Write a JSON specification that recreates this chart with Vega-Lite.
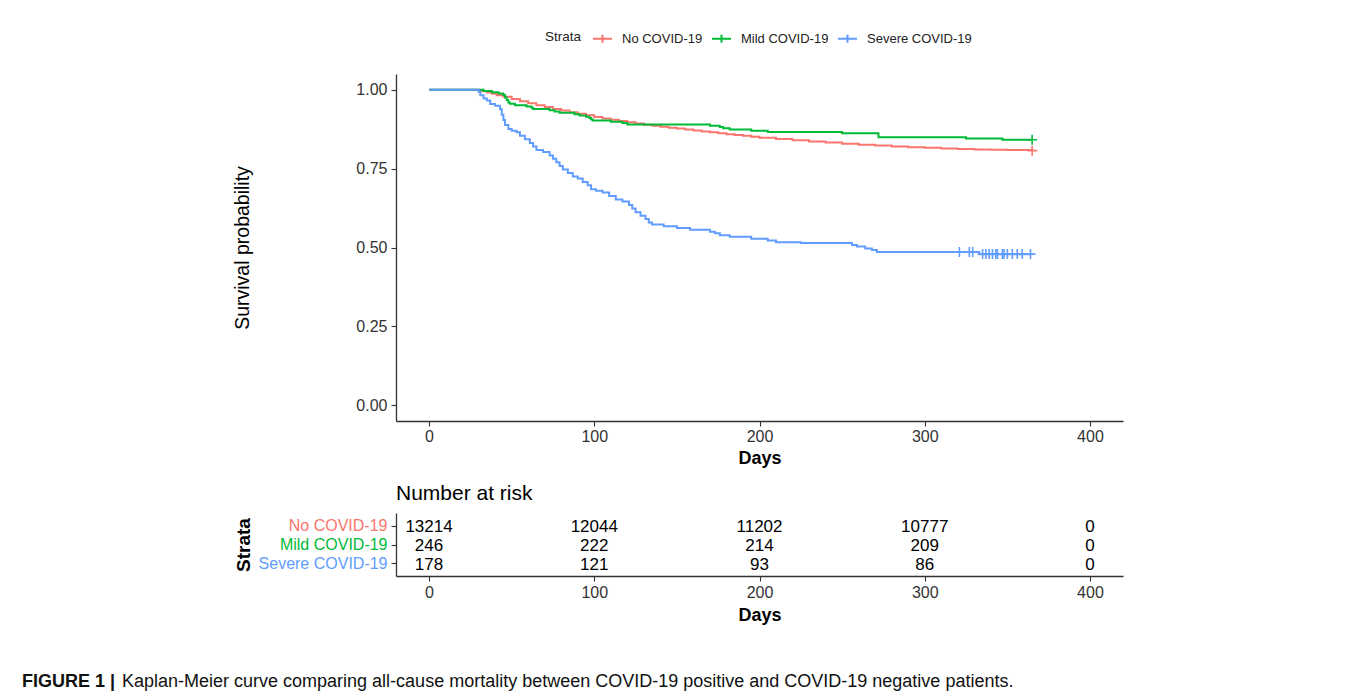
{
  "$schema": "https://vega.github.io/schema/vega-lite/v6.json",
  "background": "white",
  "padding": {"left": 22, "top": 28, "right": 10, "bottom": 0},
  "config": {
    "font": "Liberation Sans",
    "view": {"stroke": null},
    "axis": {
      "grid": false,
      "domainColor": "#333333",
      "domainWidth": 1.3,
      "tickColor": "#333333",
      "tickWidth": 1.1,
      "tickSize": 5,
      "labelColor": "#333333",
      "labelFontSize": 16,
      "labelFont": "Liberation Sans",
      "titleFont": "Liberation Sans",
      "titleColor": "#000000"
    }
  },
  "datasets": {
    "curves": [
      {"strata": "No COVID-19", "day": 0, "surv": 1.0},
      {"strata": "No COVID-19", "day": 30, "surv": 0.998},
      {"strata": "No COVID-19", "day": 32, "surv": 0.995},
      {"strata": "No COVID-19", "day": 35, "surv": 0.991},
      {"strata": "No COVID-19", "day": 38, "surv": 0.987},
      {"strata": "No COVID-19", "day": 41, "surv": 0.983},
      {"strata": "No COVID-19", "day": 45, "surv": 0.978},
      {"strata": "No COVID-19", "day": 50, "surv": 0.971},
      {"strata": "No COVID-19", "day": 55, "surv": 0.964},
      {"strata": "No COVID-19", "day": 60, "surv": 0.957},
      {"strata": "No COVID-19", "day": 65, "surv": 0.951},
      {"strata": "No COVID-19", "day": 70, "surv": 0.945},
      {"strata": "No COVID-19", "day": 75, "surv": 0.939},
      {"strata": "No COVID-19", "day": 80, "surv": 0.934},
      {"strata": "No COVID-19", "day": 85, "surv": 0.929},
      {"strata": "No COVID-19", "day": 90, "surv": 0.924},
      {"strata": "No COVID-19", "day": 95, "surv": 0.919},
      {"strata": "No COVID-19", "day": 100, "surv": 0.914},
      {"strata": "No COVID-19", "day": 105, "surv": 0.909},
      {"strata": "No COVID-19", "day": 110, "surv": 0.905},
      {"strata": "No COVID-19", "day": 115, "surv": 0.901},
      {"strata": "No COVID-19", "day": 120, "surv": 0.897},
      {"strata": "No COVID-19", "day": 125, "surv": 0.893},
      {"strata": "No COVID-19", "day": 130, "surv": 0.889},
      {"strata": "No COVID-19", "day": 135, "surv": 0.886},
      {"strata": "No COVID-19", "day": 140, "surv": 0.883},
      {"strata": "No COVID-19", "day": 145, "surv": 0.880},
      {"strata": "No COVID-19", "day": 150, "surv": 0.877},
      {"strata": "No COVID-19", "day": 155, "surv": 0.874},
      {"strata": "No COVID-19", "day": 160, "surv": 0.871},
      {"strata": "No COVID-19", "day": 165, "surv": 0.868},
      {"strata": "No COVID-19", "day": 170, "surv": 0.865},
      {"strata": "No COVID-19", "day": 175, "surv": 0.862},
      {"strata": "No COVID-19", "day": 180, "surv": 0.859},
      {"strata": "No COVID-19", "day": 185, "surv": 0.857},
      {"strata": "No COVID-19", "day": 190, "surv": 0.854},
      {"strata": "No COVID-19", "day": 195, "surv": 0.851},
      {"strata": "No COVID-19", "day": 200, "surv": 0.848},
      {"strata": "No COVID-19", "day": 210, "surv": 0.844},
      {"strata": "No COVID-19", "day": 220, "surv": 0.840},
      {"strata": "No COVID-19", "day": 230, "surv": 0.836},
      {"strata": "No COVID-19", "day": 240, "surv": 0.833},
      {"strata": "No COVID-19", "day": 250, "surv": 0.829},
      {"strata": "No COVID-19", "day": 260, "surv": 0.826},
      {"strata": "No COVID-19", "day": 270, "surv": 0.823},
      {"strata": "No COVID-19", "day": 280, "surv": 0.820},
      {"strata": "No COVID-19", "day": 290, "surv": 0.818},
      {"strata": "No COVID-19", "day": 300, "surv": 0.816},
      {"strata": "No COVID-19", "day": 310, "surv": 0.814},
      {"strata": "No COVID-19", "day": 320, "surv": 0.812},
      {"strata": "No COVID-19", "day": 330, "surv": 0.811},
      {"strata": "No COVID-19", "day": 340, "surv": 0.810},
      {"strata": "No COVID-19", "day": 350, "surv": 0.809},
      {"strata": "No COVID-19", "day": 365, "surv": 0.807},
      {"strata": "Mild COVID-19", "day": 0, "surv": 1.0},
      {"strata": "Mild COVID-19", "day": 33, "surv": 0.9959},
      {"strata": "Mild COVID-19", "day": 38, "surv": 0.9919},
      {"strata": "Mild COVID-19", "day": 42, "surv": 0.9878},
      {"strata": "Mild COVID-19", "day": 45, "surv": 0.9837},
      {"strata": "Mild COVID-19", "day": 46, "surv": 0.9756},
      {"strata": "Mild COVID-19", "day": 47, "surv": 0.9675},
      {"strata": "Mild COVID-19", "day": 48, "surv": 0.9593},
      {"strata": "Mild COVID-19", "day": 49, "surv": 0.9553},
      {"strata": "Mild COVID-19", "day": 52, "surv": 0.9512},
      {"strata": "Mild COVID-19", "day": 59, "surv": 0.9472},
      {"strata": "Mild COVID-19", "day": 62, "surv": 0.9431},
      {"strata": "Mild COVID-19", "day": 63, "surv": 0.9390},
      {"strata": "Mild COVID-19", "day": 73, "surv": 0.9350},
      {"strata": "Mild COVID-19", "day": 76, "surv": 0.9309},
      {"strata": "Mild COVID-19", "day": 79, "surv": 0.9268},
      {"strata": "Mild COVID-19", "day": 88, "surv": 0.9228},
      {"strata": "Mild COVID-19", "day": 91, "surv": 0.9187},
      {"strata": "Mild COVID-19", "day": 95, "surv": 0.9146},
      {"strata": "Mild COVID-19", "day": 97, "surv": 0.9106},
      {"strata": "Mild COVID-19", "day": 98, "surv": 0.9065},
      {"strata": "Mild COVID-19", "day": 99, "surv": 0.9024},
      {"strata": "Mild COVID-19", "day": 110, "surv": 0.8984},
      {"strata": "Mild COVID-19", "day": 117, "surv": 0.8943},
      {"strata": "Mild COVID-19", "day": 120, "surv": 0.8902},
      {"strata": "Mild COVID-19", "day": 170, "surv": 0.8862},
      {"strata": "Mild COVID-19", "day": 176, "surv": 0.8821},
      {"strata": "Mild COVID-19", "day": 178, "surv": 0.8780},
      {"strata": "Mild COVID-19", "day": 182, "surv": 0.8740},
      {"strata": "Mild COVID-19", "day": 195, "surv": 0.8700},
      {"strata": "Mild COVID-19", "day": 205, "surv": 0.8659},
      {"strata": "Mild COVID-19", "day": 250, "surv": 0.8618},
      {"strata": "Mild COVID-19", "day": 272, "surv": 0.8496},
      {"strata": "Mild COVID-19", "day": 325, "surv": 0.8455},
      {"strata": "Mild COVID-19", "day": 347, "surv": 0.8415},
      {"strata": "Mild COVID-19", "day": 365, "surv": 0.8415},
      {"strata": "Severe COVID-19", "day": 0, "surv": 1.0},
      {"strata": "Severe COVID-19", "day": 30, "surv": 0.994},
      {"strata": "Severe COVID-19", "day": 31, "surv": 0.983},
      {"strata": "Severe COVID-19", "day": 33, "surv": 0.972},
      {"strata": "Severe COVID-19", "day": 35, "surv": 0.966},
      {"strata": "Severe COVID-19", "day": 37, "surv": 0.955},
      {"strata": "Severe COVID-19", "day": 40, "surv": 0.949},
      {"strata": "Severe COVID-19", "day": 43, "surv": 0.938},
      {"strata": "Severe COVID-19", "day": 44, "surv": 0.921},
      {"strata": "Severe COVID-19", "day": 45, "surv": 0.904},
      {"strata": "Severe COVID-19", "day": 46, "surv": 0.888},
      {"strata": "Severe COVID-19", "day": 48, "surv": 0.876},
      {"strata": "Severe COVID-19", "day": 50, "surv": 0.870},
      {"strata": "Severe COVID-19", "day": 53, "surv": 0.865},
      {"strata": "Severe COVID-19", "day": 55, "surv": 0.854},
      {"strata": "Severe COVID-19", "day": 58, "surv": 0.843},
      {"strata": "Severe COVID-19", "day": 61, "surv": 0.831},
      {"strata": "Severe COVID-19", "day": 63, "surv": 0.820},
      {"strata": "Severe COVID-19", "day": 65, "surv": 0.809},
      {"strata": "Severe COVID-19", "day": 69, "surv": 0.803},
      {"strata": "Severe COVID-19", "day": 73, "surv": 0.792},
      {"strata": "Severe COVID-19", "day": 75, "surv": 0.781},
      {"strata": "Severe COVID-19", "day": 77, "surv": 0.770},
      {"strata": "Severe COVID-19", "day": 79, "surv": 0.758},
      {"strata": "Severe COVID-19", "day": 81, "surv": 0.747},
      {"strata": "Severe COVID-19", "day": 84, "surv": 0.736},
      {"strata": "Severe COVID-19", "day": 87, "surv": 0.725},
      {"strata": "Severe COVID-19", "day": 90, "surv": 0.719},
      {"strata": "Severe COVID-19", "day": 93, "surv": 0.708},
      {"strata": "Severe COVID-19", "day": 96, "surv": 0.697},
      {"strata": "Severe COVID-19", "day": 98, "surv": 0.685},
      {"strata": "Severe COVID-19", "day": 101, "surv": 0.680},
      {"strata": "Severe COVID-19", "day": 105, "surv": 0.674},
      {"strata": "Severe COVID-19", "day": 109, "surv": 0.663},
      {"strata": "Severe COVID-19", "day": 113, "surv": 0.652},
      {"strata": "Severe COVID-19", "day": 117, "surv": 0.646},
      {"strata": "Severe COVID-19", "day": 121, "surv": 0.635},
      {"strata": "Severe COVID-19", "day": 123, "surv": 0.624},
      {"strata": "Severe COVID-19", "day": 125, "surv": 0.612},
      {"strata": "Severe COVID-19", "day": 128, "surv": 0.601},
      {"strata": "Severe COVID-19", "day": 131, "surv": 0.590},
      {"strata": "Severe COVID-19", "day": 133, "surv": 0.579},
      {"strata": "Severe COVID-19", "day": 135, "surv": 0.573},
      {"strata": "Severe COVID-19", "day": 142, "surv": 0.567},
      {"strata": "Severe COVID-19", "day": 150, "surv": 0.562},
      {"strata": "Severe COVID-19", "day": 158, "surv": 0.556},
      {"strata": "Severe COVID-19", "day": 170, "surv": 0.550},
      {"strata": "Severe COVID-19", "day": 173, "surv": 0.545},
      {"strata": "Severe COVID-19", "day": 176, "surv": 0.539},
      {"strata": "Severe COVID-19", "day": 182, "surv": 0.534},
      {"strata": "Severe COVID-19", "day": 195, "surv": 0.528},
      {"strata": "Severe COVID-19", "day": 205, "surv": 0.522},
      {"strata": "Severe COVID-19", "day": 210, "surv": 0.517},
      {"strata": "Severe COVID-19", "day": 225, "surv": 0.514},
      {"strata": "Severe COVID-19", "day": 256, "surv": 0.508},
      {"strata": "Severe COVID-19", "day": 259, "surv": 0.503},
      {"strata": "Severe COVID-19", "day": 264, "surv": 0.497},
      {"strata": "Severe COVID-19", "day": 268, "surv": 0.492},
      {"strata": "Severe COVID-19", "day": 271, "surv": 0.486},
      {"strata": "Severe COVID-19", "day": 333, "surv": 0.479},
      {"strata": "Severe COVID-19", "day": 365, "surv": 0.479}
    ],
    "censor": [
      {"strata": "No COVID-19", "day": 365, "surv": 0.807},
      {"strata": "Mild COVID-19", "day": 365, "surv": 0.8415},
      {"strata": "Severe COVID-19", "day": 321, "surv": 0.486},
      {"strata": "Severe COVID-19", "day": 327, "surv": 0.486},
      {"strata": "Severe COVID-19", "day": 329, "surv": 0.486},
      {"strata": "Severe COVID-19", "day": 335, "surv": 0.479},
      {"strata": "Severe COVID-19", "day": 337, "surv": 0.479},
      {"strata": "Severe COVID-19", "day": 339, "surv": 0.479},
      {"strata": "Severe COVID-19", "day": 341, "surv": 0.479},
      {"strata": "Severe COVID-19", "day": 343, "surv": 0.479},
      {"strata": "Severe COVID-19", "day": 344, "surv": 0.479},
      {"strata": "Severe COVID-19", "day": 347, "surv": 0.479},
      {"strata": "Severe COVID-19", "day": 348, "surv": 0.479},
      {"strata": "Severe COVID-19", "day": 350, "surv": 0.479},
      {"strata": "Severe COVID-19", "day": 353, "surv": 0.479},
      {"strata": "Severe COVID-19", "day": 356, "surv": 0.479},
      {"strata": "Severe COVID-19", "day": 359, "surv": 0.479},
      {"strata": "Severe COVID-19", "day": 364, "surv": 0.479}
    ],
    "risk": [
      {"strata": "No COVID-19", "day": 0, "n": 13214},
      {"strata": "No COVID-19", "day": 100, "n": 12044},
      {"strata": "No COVID-19", "day": 200, "n": 11202},
      {"strata": "No COVID-19", "day": 300, "n": 10777},
      {"strata": "No COVID-19", "day": 400, "n": 0},
      {"strata": "Mild COVID-19", "day": 0, "n": 246},
      {"strata": "Mild COVID-19", "day": 100, "n": 222},
      {"strata": "Mild COVID-19", "day": 200, "n": 214},
      {"strata": "Mild COVID-19", "day": 300, "n": 209},
      {"strata": "Mild COVID-19", "day": 400, "n": 0},
      {"strata": "Severe COVID-19", "day": 0, "n": 178},
      {"strata": "Severe COVID-19", "day": 100, "n": 121},
      {"strata": "Severe COVID-19", "day": 200, "n": 93},
      {"strata": "Severe COVID-19", "day": 300, "n": 86},
      {"strata": "Severe COVID-19", "day": 400, "n": 0}
    ],
    "caption": [
      {"label": "FIGURE 1 |", "text": "Kaplan-Meier curve comparing all-cause mortality between COVID-19 positive and COVID-19 negative patients."}
    ]
  },
  "vconcat": [
    {
      "width": 727,
      "height": 347,
      "layer": [
        {
          "data": {"name": "curves"},
          "mark": {"type": "line", "interpolate": "step-after", "strokeWidth": 2},
          "encoding": {
            "x": {
              "field": "day", "type": "quantitative",
              "scale": {"domain": [-20, 420], "nice": false, "zero": false},
              "axis": {"values": [0, 100, 200, 300, 400], "title": "Days", "titleFontSize": 18, "titleFontWeight": "bold", "titlePadding": 5, "labelPadding": 2, "labelFlush": false}
            },
            "y": {
              "field": "surv", "type": "quantitative",
              "scale": {"domain": [-0.05, 1.05], "nice": false, "zero": false},
              "axis": {"values": [0, 0.25, 0.5, 0.75, 1], "format": ".2f", "title": "Survival probability", "titleFontSize": 19.5, "titleFontWeight": "normal", "titlePadding": 103, "labelPadding": 4, "labelFlush": false}
            },
            "color": {
              "field": "strata", "type": "nominal",
              "scale": {"domain": ["No COVID-19", "Mild COVID-19", "Severe COVID-19"], "range": ["#F8766D", "#00BA38", "#619CFF"]},
              "legend": {
                "orient": "none", "legendX": 149, "legendY": -46,
                "direction": "horizontal", "title": "Strata", "titleOrient": "left",
                "titleFontSize": 13.5, "titleFontWeight": "normal", "titleColor": "#222222", "titlePadding": 10,
                "labelFontSize": 13, "labelColor": "#222222", "labelOffset": 9, "columnPadding": 5,
                "symbolType": "M-1,0H1M0,-0.42V0.42", "symbolSize": 361, "symbolStrokeWidth": 2
              }
            }
          }
        },
        {
          "data": {"name": "censor"},
          "mark": {"type": "point", "shape": "M-1,0H1M0,-1V1", "size": 100, "strokeWidth": 1.6, "filled": false, "opacity": 1},
          "encoding": {
            "x": {"field": "day", "type": "quantitative"},
            "y": {"field": "surv", "type": "quantitative"},
            "stroke": {
              "field": "strata", "type": "nominal",
              "scale": {"domain": ["No COVID-19", "Mild COVID-19", "Severe COVID-19"], "range": ["#F8766D", "#00BA38", "#619CFF"]},
              "legend": null
            }
          }
        }
      ]
    },
    {
      "width": 727,
      "height": 63,
      "title": {"text": "Number at risk", "anchor": "start", "frame": "group", "fontSize": 21, "fontWeight": "normal", "offset": 9, "color": "#000000"},
      "data": {"name": "risk"},
      "mark": {"type": "text", "fontSize": 17, "color": "#000000", "dy": 1.5},
      "encoding": {
        "x": {
          "field": "day", "type": "quantitative",
          "scale": {"domain": [-20, 420], "nice": false, "zero": false},
          "axis": {"values": [0, 100, 200, 300, 400], "title": "Days", "titleFontSize": 18, "titleFontWeight": "bold", "titlePadding": 6, "labelPadding": 3, "labelFlush": false}
        },
        "y": {
          "field": "strata", "type": "nominal",
          "scale": {"type": "point", "domain": ["No COVID-19", "Mild COVID-19", "Severe COVID-19"], "padding": 0.7},
          "axis": {
            "title": "Strata", "titleFontSize": 19, "titleFontWeight": "bold", "titlePadding": 5, "labelPadding": 4,
            "labelColor": {"condition": [{"test": "datum.value === 'No COVID-19'", "value": "#F8766D"}, {"test": "datum.value === 'Mild COVID-19'", "value": "#00BA38"}], "value": "#619CFF"}
          }
        },
        "text": {"field": "n", "type": "quantitative", "format": "d"}
      }
    },
    {
      "width": 727,
      "height": 84,
      "data": {"name": "caption"},
      "layer": [
        {
          "mark": {"type": "text", "align": "left", "x": -374, "fontSize": 18, "fontWeight": "bold", "color": "#111111"},
          "encoding": {"text": {"field": "label"}}
        },
        {
          "mark": {"type": "text", "align": "left", "x": -274, "fontSize": 18, "color": "#111111"},
          "encoding": {"text": {"field": "text"}}
        }
      ]
    }
  ],
  "spacing": 16
}
